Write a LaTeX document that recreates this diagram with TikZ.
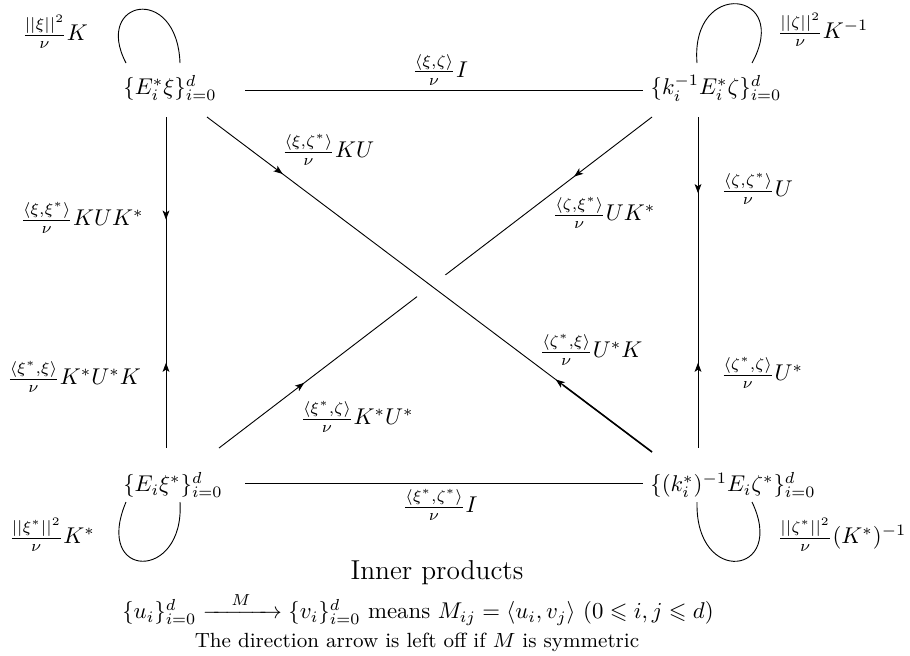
\documentclass[tikz,border=0pt]{standalone}
\usepackage{amsmath,amssymb}
\usetikzlibrary{calc,arrows.meta,decorations.markings}

\tikzset{
  >={Stealth[length=4pt,width=3pt,inset=1pt]},
  obj/.style={inner sep=0pt},
  lab/.style={inner sep=0pt},
  fwd/.style={postaction={decorate,decoration={markings,mark=at position #1 with {\arrow{>}}}}},
  bwd/.style={postaction={decorate,decoration={markings,mark=at position #1 with {\arrow{<}}}}},
}

\begin{document}
\begin{tikzpicture}[x=0.4386pt, y=-0.4386pt]
  \useasboundingbox (0,0) rectangle (910,655);

  % Objects
  \node[obj] (A) at (170,88) {$\{E_i^*\xi\}_{i=0}^d$};
  \node[obj] (B) at (716,88) {$\{k_i^{-1}E_i^*\zeta\}_{i=0}^d$};
  \node[obj] (C) at (173,485) {$\{E_i\xi^*\}_{i=0}^d$};
  \node[obj] (D) at (733,485) {$\{(k_i^*)^{-1}E_i\zeta^*\}_{i=0}^d$};

  % Ends of the diagonals
  \coordinate (ad1) at ($(A)+(37,29)$);
  \coordinate (ad2) at ($(D)+(-81,-33)$);
  \coordinate (bc1) at ($(B)+(-64,29)$);
  \coordinate (bc2) at ($(C)+(46,-37)$);

  % Loops
  \draw ($(A)+(-44,-25)$) .. controls +(-33,-63) and +(-3,-80) .. ($(A)+(10,-25)$);
  \draw ($(B)+(-19,-25)$) .. controls +(-7,-85) and +(40,-73) .. ($(B)+(36,-25)$);
  \draw ($(C)+(-47,17)$) .. controls +(-33,78) and +(5,80) .. ($(C)+(7,17)$);
  \draw ($(D)+(-36,17)$) .. controls +(-2,85) and +(35,73) .. ($(D)+(19,17)$);

  % Sides
  \draw ($(A)+(75,2)$) -- ($(B)+(-73,2)$);
  \draw ($(C)+(72,-2)$) -- ($(D)+(-90,-2)$);
  \draw[fwd=0.31, bwd=0.77] ($(A)+(-4,29)$) -- ($(C)+(-7,-37)$);
  \draw[fwd=0.23, bwd=0.77] ($(B)+(-18,29)$) -- ($(D)+(-35,-37)$);

  % Diagonals
  \draw[fwd=0.18, bwd=0.82] (bc1) -- (bc2);
  \draw[preaction={draw=white, line width=15pt}, fwd=0.17, bwd=0.8] (ad1) -- (ad2);
  \draw[line width=0.7pt] (ad2) -- ($(ad1)!0.8!(ad2)$);

  % Labels
  \node[lab] (lAA) at (55,32) {$\frac{||\xi||^2}{\nu}K$};
  \node[lab] (lBB) at (823,30) {$\frac{||\zeta||^2}{\nu}K^{-1}$};
  \node[lab] (lCC) at (52,535) {$\frac{||\xi^*||^2}{\nu}K^*$};
  \node[lab] (lDD) at (842,535) {$\frac{||\zeta^*||^2}{\nu}(K^*)^{-1}$};
  \node[lab] (lAB) at (440,70) {$\frac{\langle\xi,\zeta\rangle}{\nu}I$};
  \node[lab] (lCD) at (440,505) {$\frac{\langle\xi^*,\zeta^*\rangle}{\nu}I$};
  \node[lab] (lAC) at (82,218) {$\frac{\langle\xi,\xi^*\rangle}{\nu}KUK^*$};
  \node[lab] (lCA) at (74,377) {$\frac{\langle\xi^*,\xi\rangle}{\nu}K^*U^*K$};
  \node[lab] (lBD) at (757,189) {$\frac{\langle\zeta,\zeta^*\rangle}{\nu}U$};
  \node[lab] (lDB) at (762,373) {$\frac{\langle\zeta^*,\zeta\rangle}{\nu}U^*$};
  \node[lab] (lAD) at (328,150) {$\frac{\langle\xi,\zeta^*\rangle}{\nu}KU$};
  \node[lab] (lDA) at (591,350) {$\frac{\langle\zeta^*,\xi\rangle}{\nu}U^*K$};
  \node[lab] (lBC) at (604,213) {$\frac{\langle\zeta,\xi^*\rangle}{\nu}UK^*$};
  \node[lab] (lCB) at (357,417) {$\frac{\langle\xi^*,\zeta\rangle}{\nu}K^*U^*$};

  % Legend
  \node[lab, font=\large] (title) at (437,573) {Inner products};
  \node[lab] (rule) at (418,609) {$\{u_i\}_{i=0}^d \xrightarrow{\quad M\quad} \{v_i\}_{i=0}^d$ means $M_{ij}=\langle u_i,v_j\rangle$ $(0\leqslant i,j\leqslant d)$};
  \node[lab, font=\small] (note) at (417,642) {The direction arrow is left off if $M$ is symmetric};
\end{tikzpicture}
\end{document}
